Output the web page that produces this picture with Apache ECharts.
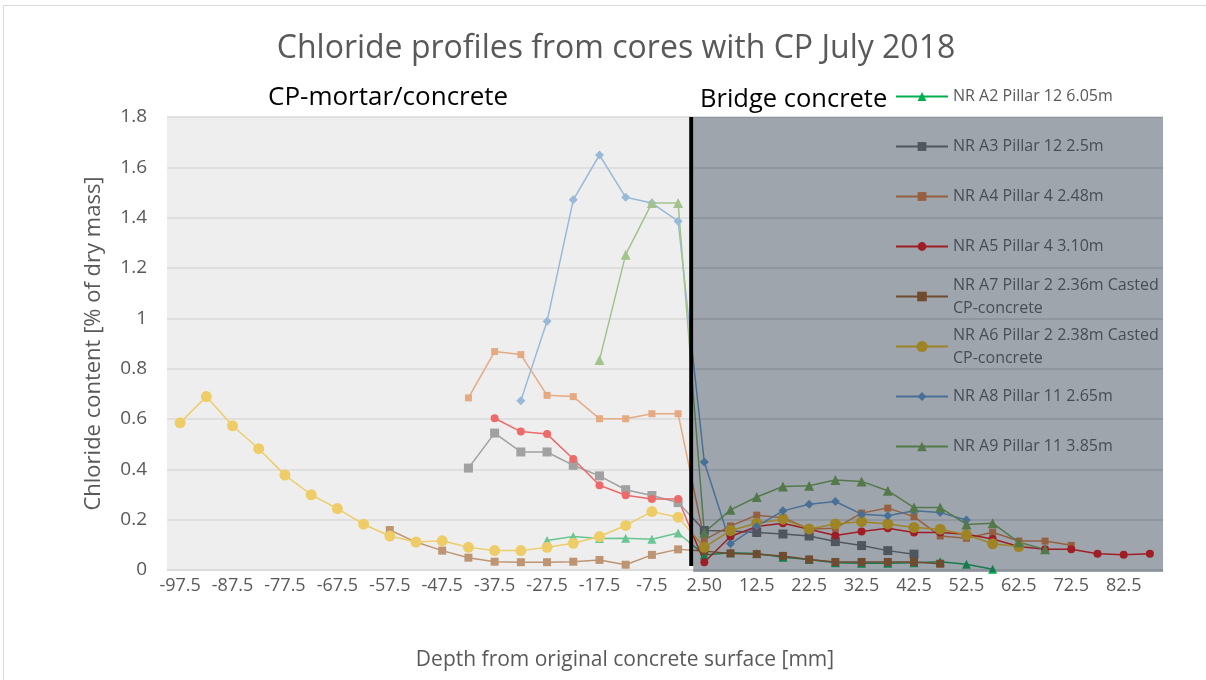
<!DOCTYPE html>
<html>
<head>
<meta charset="utf-8">
<script src="https://cdn.jsdelivr.net/npm/echarts@6/dist/echarts.min.js"></script>
<style>
  html, body { margin: 0; padding: 0; background: #ffffff; }
  #chart { width: 1206px; height: 680px; }
</style>
</head>
<body>
<div id="chart"></div>
<script>
// Depth categories [mm], negative = CP-mortar/concrete, positive = bridge concrete
const depthLabels = [
  '-97.5', '-92.5', '-87.5', '-82.5', '-77.5', '-72.5', '-67.5', '-62.5', '-57.5', '-52.5',
  '-47.5', '-42.5', '-37.5', '-32.5', '-27.5', '-22.5', '-17.5', '-12.5', '-7.5', '-2.5',
  '2.50', '7.5', '12.5', '17.5', '22.5', '27.5', '32.5', '37.5', '42.5', '47.5',
  '52.5', '57.5', '62.5', '67.5', '72.5', '77.5', '82.5', '87.5'
];

// Chloride content [% of dry mass]; each profile starts at the depth given by its *Start index
const a2Start = 14;
const a2Values = [0.117, 0.133, 0.125, 0.126, 0.122, 0.147, 0.060, 0.069, 0.066, 0.051,
  0.042, 0.029, 0.027, 0.027, 0.029, 0.033, 0.023, 0.003];

const a3Start = 11;
const a3Values = [0.405, 0.544, 0.469, 0.469, 0.416, 0.374, 0.319, 0.296, 0.268, 0.157,
  0.155, 0.149, 0.143, 0.135, 0.113, 0.097, 0.077, 0.063];

const a4Start = 11;
const a4Values = [0.684, 0.868, 0.856, 0.694, 0.689, 0.601, 0.601, 0.621, 0.621, 0.120,
  0.175, 0.218, 0.208, 0.163, 0.166, 0.226, 0.246, 0.212, 0.135, 0.126,
  0.150, 0.115, 0.115, 0.098];

const a5Start = 12;
const a5Values = [0.603, 0.550, 0.540, 0.441, 0.337, 0.297, 0.282, 0.282, 0.031, 0.133,
  0.173, 0.186, 0.162, 0.137, 0.153, 0.166, 0.149, 0.149, 0.142, 0.123,
  0.093, 0.082, 0.082, 0.065, 0.061, 0.065];

const a7Start = 8;
const a7Values = [0.159, 0.111, 0.077, 0.049, 0.033, 0.031, 0.031, 0.033, 0.040, 0.021,
  0.060, 0.082, 0.075, 0.066, 0.063, 0.056, 0.042, 0.032, 0.032, 0.032,
  0.032, 0.025];

const a6Start = 0;
const a6Values = [0.585, 0.689, 0.573, 0.482, 0.377, 0.299, 0.244, 0.182, 0.135, 0.111,
  0.116, 0.090, 0.077, 0.077, 0.090, 0.106, 0.133, 0.177, 0.232, 0.210,
  0.090, 0.157, 0.186, 0.202, 0.163, 0.183, 0.192, 0.183, 0.169, 0.162,
  0.140, 0.104, 0.093];

const a8Start = 13;
const a8Values = [0.673, 0.988, 1.471, 1.649, 1.481, 1.458, 1.386, 0.429, 0.104, 0.173,
  0.235, 0.261, 0.272, 0.222, 0.216, 0.235, 0.228, 0.199];

const a9Start = 16;
const a9Values = [0.834, 1.253, 1.458, 1.458, 0.149, 0.239, 0.290, 0.332, 0.335, 0.358,
  0.352, 0.315, 0.248, 0.248, 0.181, 0.186, 0.110, 0.082];

const yTicks = { min: 0, max: 1.8, step: 0.2 };

// Place a profile on the full depth axis (gaps stay empty)
function profile(start, values) {
  const out = depthLabels.map(() => null);
  values.forEach((v, i) => { out[start + i] = v; });
  return out;
}

const seriesDefs = [
  { name: 'NR A2 Pillar 12 6.05m', start: a2Start, values: a2Values, color: '#00B050', symbol: 'triangle', size: 9, legendSize: 11 },
  { name: 'NR A3 Pillar 12 2.5m', start: a3Start, values: a3Values, color: '#6B6B6B', symbol: 'rect', size: 9, legendSize: 11 },
  { name: 'NR A4 Pillar 4 2.48m', start: a4Start, values: a4Values, color: '#ED7D31', symbol: 'rect', size: 7, legendSize: 11 },
  { name: 'NR A5 Pillar 4 3.10m', start: a5Start, values: a5Values, color: '#FF0000', symbol: 'circle', size: 8, legendSize: 11 },
  { name: 'NR A7 Pillar 2 2.36m Casted CP-concrete', start: a7Start, values: a7Values, color: '#A45513', symbol: 'rect', size: 8, legendSize: 12 },
  { name: 'NR A6 Pillar 2 2.38m Casted CP-concrete', start: a6Start, values: a6Values, color: '#FFC000', symbol: 'circle', size: 11, legendSize: 14 },
  { name: 'NR A8 Pillar 11 2.65m', start: a8Start, values: a8Values, color: '#5B9BD5', symbol: 'diamond', size: 9, legendSize: 11 },
  { name: 'NR A9 Pillar 11 3.85m', start: a9Start, values: a9Values, color: '#70AD47', symbol: 'triangle', size: 10, legendSize: 12 }
];

const font = '"Open Sans", "Noto Sans", sans-serif';
const textGray = '#595959';
const splitIndex = depthLabels.indexOf('2.50');

const lineSeries = seriesDefs.map(d => ({
  name: d.name,
  type: 'line',
  data: profile(d.start, d.values),
  symbol: d.symbol,
  symbolSize: d.size,
  showSymbol: true,
  connectNulls: false,
  color: d.color,
  lineStyle: { width: 1.5, color: d.color },
  itemStyle: { color: d.color },
  z: 2,
  animation: false
}));

// Shaded zones: light veil over the CP-mortar side, dark veil over the bridge concrete,
// and the black interface line between them
const zoneSeries = {
  name: 'zones',
  type: 'custom',
  silent: true,
  animation: false,
  z: 6,
  data: [[0, 0]],
  renderItem: function (params, api) {
    const bw = api.size([1, 0])[0];
    const top = api.coord([0, yTicks.max])[1];
    const bottom = api.coord([0, yTicks.min])[1];
    const xLeft = api.coord([0, 0])[0] - bw / 2;
    const xSplit = api.coord([splitIndex, 0])[0] - bw / 2;
    const xRight = api.coord([depthLabels.length - 1, 0])[0] + bw / 2;
    return {
      type: 'group',
      children: [
        { type: 'rect', shape: { x: xLeft, y: top, width: xSplit - xLeft - 2, height: bottom - top },
          style: { fill: 'rgba(220,220,220,0.48)' } },
        { type: 'rect', shape: { x: xSplit + 2, y: top, width: xRight - xSplit - 2, height: bottom - top + 2 },
          style: { fill: 'rgba(51,63,80,0.47)' } },
        { type: 'rect', shape: { x: xSplit - 2, y: top, width: 4, height: bottom - top - 4 },
          style: { fill: '#000000' } }
      ]
    };
  }
};

// One legend block per profile, stacked 50 px apart beside the plot
const legendCenters = [96.5, 146.5, 196.5, 246.5, 296.5, 346.5, 396.5, 446.5];
const legends = seriesDefs.map((d, i) => {
  const twoLine = d.name.indexOf('Casted') >= 0;
  return {
    data: [d.name],
    orient: 'vertical',
    left: 895,
    top: legendCenters[i] - (twoLine ? 34.5 : 11.5),
    padding: 0,
    itemGap: 0,
    itemWidth: 52,
    itemHeight: d.legendSize,
    z: 4,
    selectedMode: false,
    formatter: name => name.replace(' CP-concrete', '\nCP-concrete'),
    textStyle: {
      fontFamily: font,
      fontSize: 16,
      color: textGray,
      lineHeight: 23,
      padding: twoLine ? [23, 0, 0, 0] : 0
    }
  };
});

const chart = echarts.init(document.getElementById('chart'), null, { renderer: 'canvas' });
chart.setOption({
  backgroundColor: '#ffffff',
  animation: false,
  title: {
    text: 'Chloride profiles from cores with CP July 2018',
    left: 611,
    top: 28,
    textAlign: 'center',
    textStyle: { fontFamily: font, fontSize: 32, fontWeight: 'normal', color: textGray }
  },
  legend: legends,
  grid: { left: 167, right: 43, top: 117, bottom: 110, containLabel: false },
  xAxis: {
    type: 'category',
    data: depthLabels,
    boundaryGap: true,
    name: 'Depth from original concrete surface [mm]',
    nameLocation: 'middle',
    nameGap: 80,
    nameTextStyle: { fontFamily: font, fontSize: 21, color: textGray, padding: [0, 80, 0, 0] },
    axisLine: { show: true, lineStyle: { color: '#D9D9D9', width: 1.5 } },
    axisTick: { show: false },
    axisLabel: { interval: 1, fontFamily: font, fontSize: 18, color: textGray, margin: 7 },
    splitLine: { show: false }
  },
  yAxis: {
    type: 'value',
    min: yTicks.min,
    max: yTicks.max,
    interval: yTicks.step,
    name: 'Chloride content [% of dry mass]',
    nameLocation: 'middle',
    nameGap: 62,
    nameTextStyle: { fontFamily: font, fontSize: 22, color: textGray },
    axisLine: { show: false },
    axisTick: { show: false },
    axisLabel: { fontFamily: font, fontSize: 19, color: textGray, margin: 20 },
    splitLine: { show: true, lineStyle: { color: '#D9D9D9', width: 1.5 } }
  },
  graphic: [
    { type: 'rect', z: 0, silent: true,
      shape: { x: 3.5, y: 5.5, width: 1300, height: 800 },
      style: { fill: 'none', stroke: '#D9D9D9', lineWidth: 1 } },
    { type: 'text', z: 10, x: 268, y: 98,
      style: { text: 'CP-mortar/concrete', fill: '#000000', font: '26px ' + font, verticalAlign: 'middle' } },
    { type: 'text', z: 10, x: 700, y: 100,
      style: { text: 'Bridge concrete', fill: '#000000', font: '25.5px ' + font, verticalAlign: 'middle' } }
  ],
  series: lineSeries.concat([zoneSeries])
});
</script>
</body>
</html>
